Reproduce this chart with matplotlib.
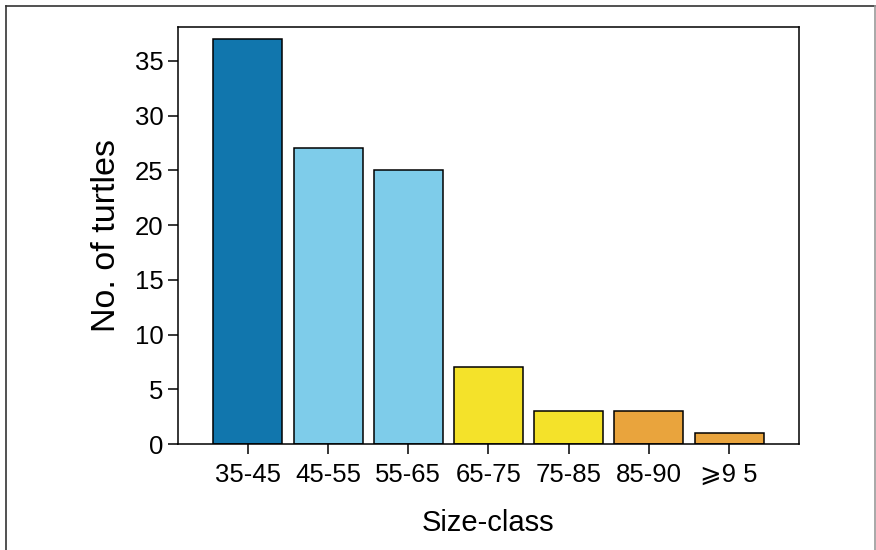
import matplotlib
matplotlib.use("Agg")
import matplotlib.pyplot as plt
from matplotlib.lines import Line2D

# data
size_classes = ['35-45', '45-55', '55-65', '65-75', '75-85', '85-90', '\u2a7e9 5']
counts = [37, 27, 25, 7, 3, 3, 1]
bar_colors = ['#1176AD', '#7ECCEA', '#7ECCEA', '#F4E22A', '#F4E22A', '#E9A43D', '#E9A43D']
y_ticks = [0, 5, 10, 15, 20, 25, 30, 35]

plt.rcParams['font.family'] = ['Liberation Sans', 'DejaVu Sans']

W, H = 876, 550
fig = plt.figure(figsize=(W / 100, H / 100), dpi=100)
ax = fig.add_axes([178 / W, 1 - 444 / H, (799 - 178) / W, (444 - 27) / H])

x = list(range(len(size_classes)))
ax.bar(x, counts, width=0.86, color=bar_colors, edgecolor='black', linewidth=1.1, zorder=2)

ax.set_xlim(-0.87, 6.87)
ax.set_ylim(0, 38.1)
ax.set_xticks(x)
ax.set_xticklabels(size_classes)
ax.set_yticks(y_ticks)

ax.tick_params(axis='both', direction='out', length=7.5, width=1.1, labelsize=18.5,
               pad=3, top=False, right=False)
ax.tick_params(axis='x', pad=6)
for sp in ax.spines.values():
    sp.set_linewidth(1.1)
    sp.set_color('black')

ax.set_ylabel('No. of turtles', fontsize=24.5, labelpad=9)
ax.set_xlabel('Size-class', fontsize=21, labelpad=16)

# thin frame around the figure (left, top, right only)
fx0, fx1 = 5.5 / W, 874.5 / W
fy1 = 1 - 5.5 / H
fig.add_artist(Line2D([fx0, fx0], [0, fy1], transform=fig.transFigure, color='#333333', lw=1.2))
fig.add_artist(Line2D([fx0, fx1], [fy1, fy1], transform=fig.transFigure, color='#333333', lw=1.2))
fig.add_artist(Line2D([fx1, fx1], [0, fy1], transform=fig.transFigure, color='#999999', lw=1.2))

fig.savefig('out.png', dpi=100)
